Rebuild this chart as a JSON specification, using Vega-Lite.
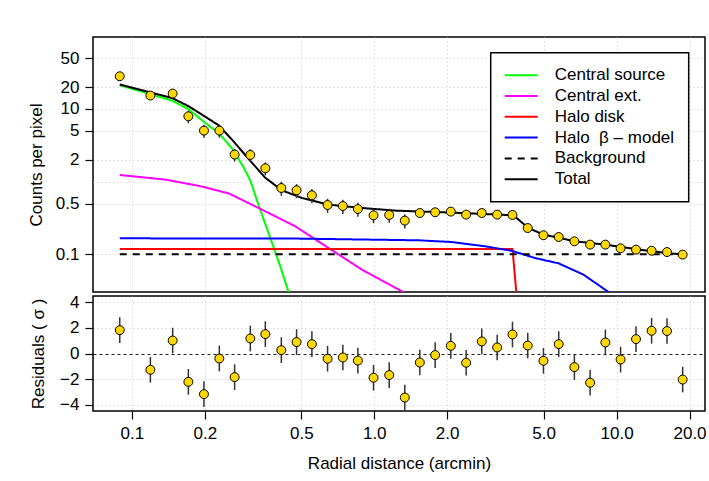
{
  "$schema": "https://vega.github.io/schema/vega-lite/v6.json",
  "padding": {"left": 26, "top": 36, "right": 0, "bottom": 0},
  "background": "white",
  "config": {
    "font": "Liberation Sans",
    "view": {"stroke": "black", "strokeWidth": 1.5},
    "axis": {
      "labelFontSize": 17, "titleFontSize": 17, "titleFontWeight": "normal",
      "labelColor": "black", "titleColor": "black", "tickColor": "black",
      "tickSize": 8, "tickWidth": 1.2, "domain": false, "labelOverlap": false,
      "gridColor": "#c8c8c8", "gridDash": [1, 3], "gridWidth": 1
    },
    "legend": {"strokeWidth": 1.5}
  },
  "datasets": {
    "pts": [
      {"x": 0.0891, "y": 28.2, "yLo": 24.8, "yHi": 31.6, "res": 1.82, "resLo": 0.82, "resHi": 2.82},
      {"x": 0.1192, "y": 15.3, "yLo": 13.5, "yHi": 17.1, "res": -1.27, "resLo": -2.27, "resHi": -0.27},
      {"x": 0.1473, "y": 16.3, "yLo": 14.3, "yHi": 18.3, "res": 1.01, "resLo": 0.01, "resHi": 2.01},
      {"x": 0.1710, "y": 7.93, "yLo": 6.34, "yHi": 9.52, "res": -2.21, "resLo": -3.21, "resHi": -1.21},
      {"x": 0.1983, "y": 5.04, "yLo": 4.03, "yHi": 6.05, "res": -3.17, "resLo": -4.17, "resHi": -2.17},
      {"x": 0.2295, "y": 5.04, "yLo": 4.03, "yHi": 6.05, "res": -0.39, "resLo": -1.39, "resHi": 0.61},
      {"x": 0.2654, "y": 2.36, "yLo": 1.89, "yHi": 2.83, "res": -1.84, "resLo": -2.84, "resHi": -0.84},
      {"x": 0.3081, "y": 2.33, "yLo": 1.86, "yHi": 2.80, "res": 1.17, "resLo": 0.17, "resHi": 2.17},
      {"x": 0.3553, "y": 1.53, "yLo": 1.22, "yHi": 1.84, "res": 1.51, "resLo": 0.51, "resHi": 2.51},
      {"x": 0.4136, "y": 0.818, "yLo": 0.638, "yHi": 0.998, "res": 0.26, "resLo": -0.74, "resHi": 1.26},
      {"x": 0.4781, "y": 0.760, "yLo": 0.593, "yHi": 0.927, "res": 0.89, "resLo": -0.11, "resHi": 1.89},
      {"x": 0.5530, "y": 0.649, "yLo": 0.506, "yHi": 0.792, "res": 0.73, "resLo": -0.27, "resHi": 1.73},
      {"x": 0.6418, "y": 0.477, "yLo": 0.372, "yHi": 0.582, "res": -0.41, "resLo": -1.41, "resHi": 0.59},
      {"x": 0.7421, "y": 0.462, "yLo": 0.360, "yHi": 0.564, "res": -0.31, "resLo": -1.31, "resHi": 0.69},
      {"x": 0.8560, "y": 0.420, "yLo": 0.328, "yHi": 0.512, "res": -0.55, "resLo": -1.55, "resHi": 0.45},
      {"x": 0.9934, "y": 0.344, "yLo": 0.268, "yHi": 0.420, "res": -1.89, "resLo": -2.89, "resHi": -0.89},
      {"x": 1.153, "y": 0.348, "yLo": 0.271, "yHi": 0.425, "res": -1.68, "resLo": -2.68, "resHi": -0.68},
      {"x": 1.337, "y": 0.291, "yLo": 0.227, "yHi": 0.355, "res": -3.43, "resLo": -4.43, "resHi": -2.43},
      {"x": 1.542, "y": 0.370, "yLo": 0.326, "yHi": 0.414, "res": -0.70, "resLo": -1.70, "resHi": 0.30},
      {"x": 1.784, "y": 0.379, "yLo": 0.334, "yHi": 0.424, "res": -0.12, "resLo": -1.12, "resHi": 0.88},
      {"x": 2.070, "y": 0.387, "yLo": 0.341, "yHi": 0.433, "res": 0.60, "resLo": -0.40, "resHi": 1.60},
      {"x": 2.395, "y": 0.352, "yLo": 0.310, "yHi": 0.394, "res": -0.72, "resLo": -1.72, "resHi": 0.28},
      {"x": 2.778, "y": 0.370, "yLo": 0.326, "yHi": 0.414, "res": 0.94, "resLo": -0.06, "resHi": 1.94},
      {"x": 3.216, "y": 0.352, "yLo": 0.310, "yHi": 0.394, "res": 0.47, "resLo": -0.53, "resHi": 1.47},
      {"x": 3.719, "y": 0.348, "yLo": 0.306, "yHi": 0.390, "res": 1.48, "resLo": 0.48, "resHi": 2.48},
      {"x": 4.299, "y": 0.230, "yLo": 0.212, "yHi": 0.248, "res": 0.62, "resLo": -0.38, "resHi": 1.62},
      {"x": 4.991, "y": 0.183, "yLo": 0.168, "yHi": 0.198, "res": -0.57, "resLo": -1.57, "resHi": 0.43},
      {"x": 5.771, "y": 0.173, "yLo": 0.159, "yHi": 0.187, "res": 0.73, "resLo": -0.27, "resHi": 1.73},
      {"x": 6.698, "y": 0.151, "yLo": 0.139, "yHi": 0.163, "res": -1.06, "resLo": -2.06, "resHi": -0.06},
      {"x": 7.777, "y": 0.136, "yLo": 0.125, "yHi": 0.147, "res": -2.28, "resLo": -3.28, "resHi": -1.28},
      {"x": 8.990, "y": 0.136, "yLo": 0.125, "yHi": 0.147, "res": 0.86, "resLo": -0.14, "resHi": 1.86},
      {"x": 10.39, "y": 0.121, "yLo": 0.111, "yHi": 0.131, "res": -0.47, "resLo": -1.47, "resHi": 0.53},
      {"x": 12.03, "y": 0.116, "yLo": 0.107, "yHi": 0.125, "res": 1.12, "resLo": 0.12, "resHi": 2.12},
      {"x": 13.95, "y": 0.112, "yLo": 0.103, "yHi": 0.121, "res": 1.77, "resLo": 0.77, "resHi": 2.77},
      {"x": 16.15, "y": 0.1075, "yLo": 0.0989, "yHi": 0.1161, "res": 1.75, "resLo": 0.75, "resHi": 2.75},
      {"x": 18.74, "y": 0.0991, "yLo": 0.0912, "yHi": 0.1070, "res": -2.03, "resLo": -3.03, "resHi": -1.03}
    ],
    "models": [
      {"comp": "Central source", "x": 0.0891, "y": 21.2},
      {"comp": "Central source", "x": 0.1173, "y": 16.3},
      {"comp": "Central source", "x": 0.1463, "y": 13.05},
      {"comp": "Central source", "x": 0.1715, "y": 9.91},
      {"comp": "Central source", "x": 0.2010, "y": 6.42},
      {"comp": "Central source", "x": 0.2280, "y": 4.67},
      {"comp": "Central source", "x": 0.2587, "y": 2.88},
      {"comp": "Central source", "x": 0.2891, "y": 1.576},
      {"comp": "Central source", "x": 0.3090, "y": 1.011},
      {"comp": "Central source", "x": 0.3270, "y": 0.5715},
      {"comp": "Central source", "x": 0.3462, "y": 0.3334},
      {"comp": "Central source", "x": 0.3665, "y": 0.1945},
      {"comp": "Central source", "x": 0.4031, "y": 0.0801},
      {"comp": "Central source", "x": 0.4431, "y": 0.0303},
      {"comp": "Central source", "x": 0.4691, "y": 0.0164},
      {"comp": "Central ext.", "x": 0.0891, "y": 1.235},
      {"comp": "Central ext.", "x": 0.1374, "y": 1.067},
      {"comp": "Central ext.", "x": 0.1886, "y": 0.877},
      {"comp": "Central ext.", "x": 0.2506, "y": 0.691},
      {"comp": "Central ext.", "x": 0.3439, "y": 0.4123},
      {"comp": "Central ext.", "x": 0.4722, "y": 0.2428},
      {"comp": "Central ext.", "x": 0.6478, "y": 0.1221},
      {"comp": "Central ext.", "x": 0.889, "y": 0.0616},
      {"comp": "Central ext.", "x": 1.300, "y": 0.0310},
      {"comp": "Central ext.", "x": 1.359, "y": 0.0281},
      {"comp": "Halo disk", "x": 0.0891, "y": 0.1183},
      {"comp": "Halo disk", "x": 3.72, "y": 0.1183},
      {"comp": "Halo disk", "x": 3.90, "y": 0.02},
      {"comp": "Halo\u00a0 β – model", "x": 0.0891, "y": 0.166},
      {"comp": "Halo\u00a0 β – model", "x": 0.4873, "y": 0.1645},
      {"comp": "Halo\u00a0 β – model", "x": 1.523, "y": 0.1559},
      {"comp": "Halo\u00a0 β – model", "x": 2.089, "y": 0.1477},
      {"comp": "Halo\u00a0 β – model", "x": 2.869, "y": 0.1289},
      {"comp": "Halo\u00a0 β – model", "x": 3.694, "y": 0.1117},
      {"comp": "Halo\u00a0 β – model", "x": 4.612, "y": 0.0889},
      {"comp": "Halo\u00a0 β – model", "x": 5.754, "y": 0.0752},
      {"comp": "Halo\u00a0 β – model", "x": 7.296, "y": 0.0526},
      {"comp": "Halo\u00a0 β – model", "x": 8.966, "y": 0.0327},
      {"comp": "Halo\u00a0 β – model", "x": 9.428, "y": 0.0290},
      {"comp": "Background", "x": 0.0891, "y": 0.1},
      {"comp": "Background", "x": 18.74, "y": 0.1},
      {"comp": "Total", "x": 0.0891, "y": 21.7},
      {"comp": "Total", "x": 0.1173, "y": 17.1},
      {"comp": "Total", "x": 0.1463, "y": 14.2},
      {"comp": "Total", "x": 0.1715, "y": 10.9},
      {"comp": "Total", "x": 0.1945, "y": 8.37},
      {"comp": "Total", "x": 0.2280, "y": 5.97},
      {"comp": "Total", "x": 0.2587, "y": 3.79},
      {"comp": "Total", "x": 0.3031, "y": 2.06},
      {"comp": "Total", "x": 0.3553, "y": 1.13},
      {"comp": "Total", "x": 0.4159, "y": 0.760},
      {"comp": "Total", "x": 0.5028, "y": 0.596},
      {"comp": "Total", "x": 0.6478, "y": 0.483},
      {"comp": "Total", "x": 0.889, "y": 0.434},
      {"comp": "Total", "x": 1.221, "y": 0.3995},
      {"comp": "Total", "x": 1.675, "y": 0.385},
      {"comp": "Total", "x": 2.448, "y": 0.367},
      {"comp": "Total", "x": 3.753, "y": 0.344},
      {"comp": "Total", "x": 4.327, "y": 0.230},
      {"comp": "Total", "x": 4.991, "y": 0.187},
      {"comp": "Total", "x": 6.745, "y": 0.151},
      {"comp": "Total", "x": 8.966, "y": 0.136},
      {"comp": "Total", "x": 13.95, "y": 0.110},
      {"comp": "Total", "x": 18.74, "y": 0.0991}
    ]
  },
  "vconcat": [
    {
      "width": 612,
      "height": 255,
      "layer": [
        {
          "data": {"name": "models"},
          "mark": {"type": "line", "strokeWidth": 2, "clip": true},
          "encoding": {
            "x": {"field": "x", "type": "quantitative",
              "scale": {"type": "log", "domain": [0.0691, 23.17], "nice": false},
              "axis": {"values": [0.1, 0.2, 0.5, 1, 2, 5, 10, 20], "labels": false, "ticks": false, "title": null, "grid": true}},
            "y": {"field": "y", "type": "quantitative",
              "scale": {"type": "log", "domain": [0.0303, 97.9], "nice": false},
              "axis": {"values": [0.1, 0.5, 1, 2, 5, 10, 20, 50], "title": "Counts per pixel", "grid": true,
                "labelExpr": "datum.value == 1 ? '' : format(datum.value, '~g')",
                "tickOpacity": {"condition": {"test": "datum.value == 1", "value": 0}, "value": 1},
                "labelPadding": 6, "titlePadding": 10}},
            "color": {"field": "comp", "type": "nominal",
              "scale": {"domain": ["Central source", "Central ext.", "Halo disk", "Halo\u00a0 β – model", "Background", "Total"],
                "range": ["#00ff00", "#ff00ff", "#ff0000", "#0000ff", "#000000", "#000000"]},
              "legend": {"orient": "none", "legendX": 397.7, "legendY": 15.7, "title": null,
                "strokeColor": "black", "fillColor": "white", "padding": 14,
                "labelFontSize": 17, "labelColor": "black",
                "symbolType": "M-3,0H3", "symbolSize": 121, "symbolStrokeWidth": 2,
                "symbolOffset": 8, "labelOffset": 25, "rowPadding": 2.8}},
            "strokeDash": {"field": "comp", "type": "nominal",
              "scale": {"domain": ["Central source", "Central ext.", "Halo disk", "Halo\u00a0 β – model", "Background", "Total"],
                "range": [[1, 0], [1, 0], [1, 0], [1, 0], [7, 6], [1, 0]]},
              "legend": {"orient": "none", "legendX": 397.7, "legendY": 15.7, "title": null}}
          }
        },
        {
          "data": {"name": "pts"},
          "mark": {"type": "rule", "stroke": "#333333", "strokeWidth": 1.5},
          "encoding": {
            "x": {"field": "x", "type": "quantitative"},
            "y": {"field": "yLo", "type": "quantitative"},
            "y2": {"field": "yHi"}
          }
        },
        {
          "data": {"name": "pts"},
          "mark": {"type": "point", "shape": "circle", "filled": true, "fill": "#ffd700", "stroke": "black", "strokeWidth": 1, "size": 80, "opacity": 1},
          "encoding": {
            "x": {"field": "x", "type": "quantitative"},
            "y": {"field": "y", "type": "quantitative"}
          }
        }
      ]
    },
    {
      "width": 612,
      "height": 115,
      "data": {"name": "pts"},
      "layer": [
        {
          "mark": {"type": "rule", "stroke": "#333333", "strokeWidth": 1.5},
          "encoding": {
            "x": {"field": "x", "type": "quantitative",
              "scale": {"type": "log", "domain": [0.0691, 23.17], "nice": false},
              "axis": {"values": [0.1, 0.2, 0.5, 1, 2, 5, 10, 20], "format": ".1f", "title": "Radial distance (arcmin)", "grid": true, "labelPadding": 6, "titlePadding": 14}},
            "y": {"field": "resLo", "type": "quantitative",
              "scale": {"domain": [-4.48, 4.48], "nice": false},
              "axis": {"values": [-4, -2, 0, 2, 4], "tickCount": 5, "title": "Residuals ( σ )", "grid": true, "labelOverlap": false, "labelPadding": 6, "titlePadding": 12,
                "gridDash": {"condition": {"test": "datum.value === 0", "value": [3, 3]}, "value": [1, 3]},
                "gridColor": {"condition": {"test": "datum.value === 0", "value": "#222222"}, "value": "#c8c8c8"},
                "gridWidth": {"condition": {"test": "datum.value === 0", "value": 1.2}, "value": 1}}},
            "y2": {"field": "resHi"}
          }
        },
        {
          "mark": {"type": "point", "shape": "circle", "filled": true, "fill": "#ffd700", "stroke": "black", "strokeWidth": 1, "size": 80, "opacity": 1},
          "encoding": {
            "x": {"field": "x", "type": "quantitative"},
            "y": {"field": "res", "type": "quantitative"}
          }
        }
      ]
    }
  ],
  "spacing": 4,
  "bounds": "flush"
}
